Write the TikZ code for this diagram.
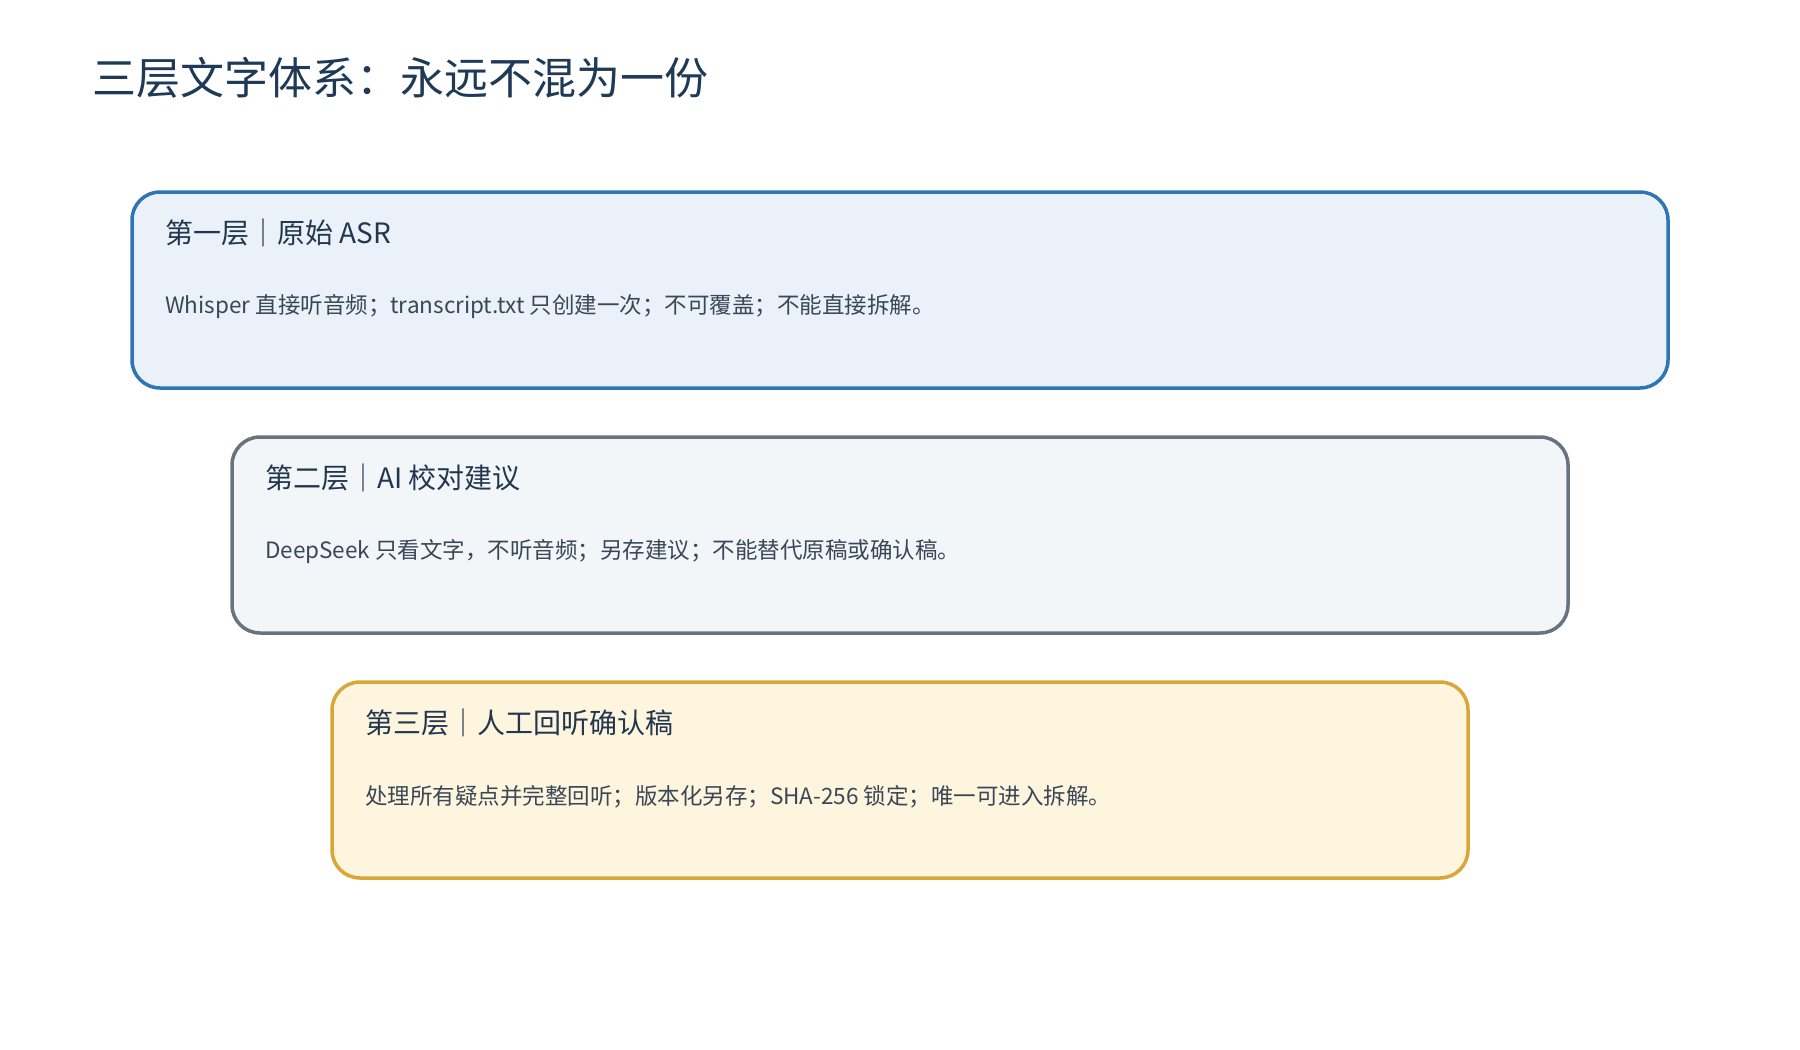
\documentclass[tikz,border=0pt]{standalone}
\usepackage{fontspec}
\setmainfont{Noto Sans CJK SC}
\usepackage{tikz}
\definecolor{titleink}{HTML}{1F3A56}
\definecolor{headink}{HTML}{22374F}
\definecolor{bodyink}{HTML}{3A4756}
\definecolor{asrline}{HTML}{2E75B6}
\definecolor{asrfill}{HTML}{EAF1F8}
\definecolor{ailine}{HTML}{67747F}
\definecolor{aifill}{HTML}{F2F6F9}
\definecolor{humanline}{HTML}{D9A637}
\definecolor{humanfill}{HTML}{FEF5DF}
\tikzset{
  layer/.style={draw, rounded corners=28pt, line width=3.5pt, minimum width=#1, minimum height=196pt, inner sep=0pt},
  head/.style={anchor=west, inner sep=0pt, text=headink, font=\fontsize{28}{32}\selectfont},
  body/.style={anchor=west, inner sep=0pt, text=bodyink, font=\fontsize{22.5}{26}\selectfont},
}

\begin{document}
\begin{tikzpicture}[x=1pt,y=-1pt]
\useasboundingbox (0,0) rectangle (1800,1050);
\node[anchor=west, inner sep=0pt, text=titleink, font=\fontsize{44}{50}\selectfont] (title) at (92,78) {三层文字体系：永远不混为一份};
% layer 1
\node[layer=1536pt, draw=asrline, fill=asrfill] (asr) at (900,290) {};
\node[head] (asrhead) at (132+33,233) {第一层｜原始 ASR};
\node[body] (asrbody) at (132+33,307) {Whisper 直接听音频；transcript.txt 只创建一次；不可覆盖；不能直接拆解。};
% layer 2
\node[layer=1336pt, draw=ailine, fill=aifill] (ai) at (900,535) {};
\node[head] (aihead) at (232+33,478) {第二层｜AI 校对建议};
\node[body] (aibody) at (232+33,552) {DeepSeek 只看文字，不听音频；另存建议；不能替代原稿或确认稿。};
% layer 3
\node[layer=1136pt, draw=humanline, fill=humanfill] (human) at (900,780) {};
\node[head] (humanhead) at (332+33,723) {第三层｜人工回听确认稿};
\node[body] (humanbody) at (332+33,797) {处理所有疑点并完整回听；版本化另存；SHA-256 锁定；唯一可进入拆解。};
\end{tikzpicture}
\end{document}
